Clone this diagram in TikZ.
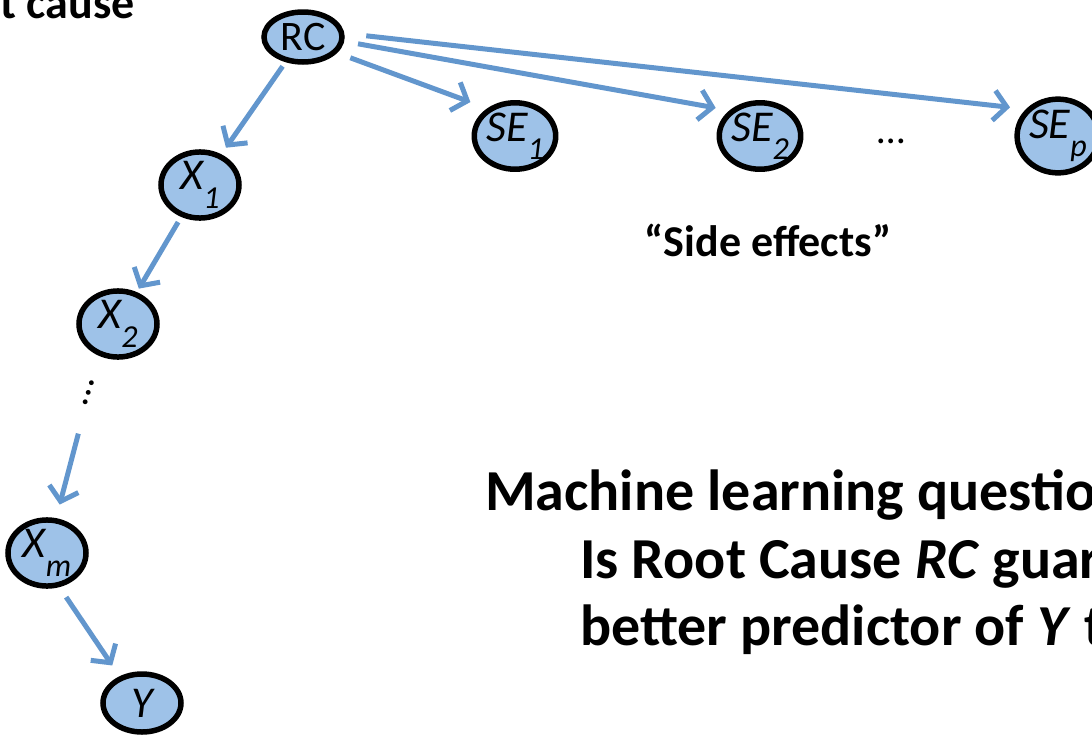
\documentclass[tikz,border=0pt]{standalone}
\usepackage{fontspec}
\setmainfont{Carlito}
\usetikzlibrary{arrows.meta,shapes.geometric,calc}

\definecolor{varfill}{RGB}{158,194,232}
\definecolor{edgeblue}{RGB}{98,150,205}
\newcommand{\varsub}[1]{\raisebox{-0.42em}{\fontsize{32}{32}\selectfont #1}}

\begin{document}
\begin{tikzpicture}[x=1pt,y=-1pt,
  var/.style={ellipse,draw=black,line width=5.5pt,fill=varfill,
    minimum width=78pt,minimum height=58pt,inner sep=0pt,
    font=\fontsize{44}{44}\selectfont\itshape},
  edge/.style={draw=edgeblue,line width=5pt,
    -{Straight Barb[length=13pt,width=30pt]}},
  bigtext/.style={anchor=base west,inner sep=0pt,
    font=\fontsize{58}{58}\selectfont\bfseries}]
\useasboundingbox (0,0) rectangle (1092,734);
\clip (0,0) rectangle (1092,734);
% root cause and side effects
\node[anchor=base east,inner sep=0pt,font=\fontsize{46}{46}\selectfont\bfseries] (rootlbl) at (135,18) {Root cause};
\node[var,minimum height=50pt,font=\fontsize{42}{42}\selectfont] (RC) at (303,37) {RC};
\node[var] (SE1) at (515,136) {SE\varsub{1}};
\node[var] (SE2) at (760,136) {SE\varsub{2}};
\node[var] (SEp) at (1058,136) {SE\varsub{p}};
\node[font=\fontsize{40}{40}\selectfont] (hdots) at (891,141) {\dots};
\node[font=\fontsize{44}{44}\selectfont\bfseries] (selbl) at (768,240) {“Side effects”};
\draw[edge,shorten <=14pt,shorten >=18pt] (RC.-25) -- (SE1.135);
\draw[edge,shorten <=14pt,shorten >=14pt] (RC.-6) -- (SE2.140);
\draw[edge,shorten <=22pt,shorten >=16pt] (RC.5) -- (SEp.140);
% causal chain
\node[var] (X1) at (200,185) {X\varsub{1}};
\node[var] (X2) at (118,324) {X\varsub{2}};
\node[rotate=72,font=\fontsize{40}{40}\selectfont] (vdots) at (89,393) {\dots};
\node[var] (Xm) at (47,553) {X\varsub{m}};
\node[var] (Y) at (142,703) {Y};
\draw[edge,shorten <=5pt,shorten >=8pt] (RC) -- (X1);
\draw[edge,shorten <=6pt,shorten >=4pt] (X1) -- (X2);
\draw[edge,shorten <=42pt,shorten >=14pt] (vdots.center) -- (Xm);
\draw[edge,shorten <=12pt,shorten >=13pt] (Xm.-70) -- (Y.130);
% question
\node[bigtext] (q1) at (485,510) {Machine learning question:};
\node[bigtext] (q2) at (580,578) {Is Root Cause \textit{RC} guaranteed};
\node[bigtext] (q3) at (580,645) {better predictor of \textit{Y} than};
\end{tikzpicture}
\end{document}
